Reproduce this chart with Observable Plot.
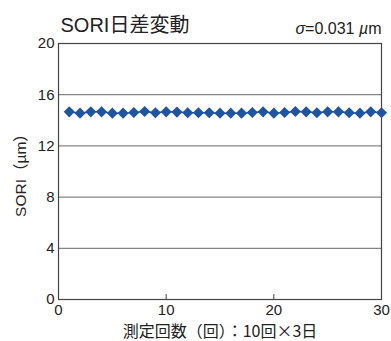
<!DOCTYPE html>
<html>
<head>
<meta charset="utf-8">
<script src="https://cdn.jsdelivr.net/npm/d3@7"></script>
<script src="https://cdn.jsdelivr.net/npm/@observablehq/plot@0.6"></script>
<style>
  html, body { margin: 0; padding: 0; background: #fff; }
  svg { font-family: "Liberation Sans", "Noto Sans CJK JP", sans-serif; }
</style>
</head>
<body>
<div id="chart"></div>
<script>
// Measurement number (1–30: 10 runs × 3 days)
const runs = d3.range(1, 31);
// SORI readings in µm
const sori = [
  14.66, 14.56, 14.66, 14.66, 14.56, 14.56, 14.61, 14.69, 14.59, 14.66,
  14.64, 14.59, 14.59, 14.59, 14.56, 14.56, 14.56, 14.61, 14.66, 14.56,
  14.61, 14.69, 14.66, 14.59, 14.66, 14.66, 14.59, 14.56, 14.66, 14.59
];
const yTicks = [0, 4, 8, 12, 16, 20];
const xTicks = [0, 10, 20, 30];
const title = "SORI日差変動";
const sigmaNote = "σ=0.031 µm";

const data = runs.map((r, i) => ({run: r, value: sori[i]}));
const blue = "#1f55a0";

const chart = Plot.plot({
  width: 391,
  height: 341,
  marginTop: 43,
  marginBottom: 42,
  marginLeft: 58,
  marginRight: 10,
  style: {fontSize: "15px", color: "#222", background: "#fff"},
  x: {domain: [0, 30]},
  y: {domain: [0, 20]},
  marks: [
    Plot.gridY(yTicks.slice(1, -1), {stroke: "#666", strokeOpacity: 1, strokeWidth: 1}),
    Plot.axisY(yTicks, {tickSize: 0, tickPadding: 4, fontSize: 15, label: null}),
    Plot.axisY({
      ticks: [], tickSize: 0, fontSize: 15.5,
      label: "SORI（µm）", labelAnchor: "center", labelArrow: "none", labelOffset: 44
    }),
    Plot.axisX([10, 20], {tickSize: -5, text: null, stroke: "#444", label: null}),
    Plot.axisX(xTicks, {tickSize: 0, tickPadding: 5, fontSize: 15, label: null}),
    Plot.axisX({
      ticks: [], tickSize: 0, fontSize: 16, fontFamily: "Noto Sans CJK JP",
      label: "測定回数（回）：10回×3日", labelAnchor: "center", labelArrow: "none", labelOffset: 37
    }),
    Plot.frame({stroke: "#444", strokeWidth: 1.2}),
    Plot.line(data, {x: "run", y: "value", stroke: blue, strokeWidth: 1.5}),
    Plot.dot(data, {x: "run", y: "value", symbol: "diamond2", r: 5, fill: blue, stroke: "none"}),
    Plot.text([title], {
      frameAnchor: "top-left", dx: 2, dy: -12, lineAnchor: "bottom",
      fontSize: 20, fill: "#222"
    }),
    Plot.text([sigmaNote], {
      frameAnchor: "top-right", dx: 0, dy: -10, lineAnchor: "bottom",
      fontSize: 16, fill: "#222", className: "sigma-note"
    })
  ]
});

// Italicise the Greek symbols in the σ note
d3.select(chart).selectAll(".sigma-note text").each(function () {
  const t = d3.select(this);
  const s = t.text();
  t.text(null);
  for (const ch of s) {
    const span = t.append("tspan").text(ch);
    if (ch === "σ" || ch === "µ") span.attr("font-style", "italic");
  }
});

document.getElementById("chart").append(chart);
</script>
</body>
</html>
